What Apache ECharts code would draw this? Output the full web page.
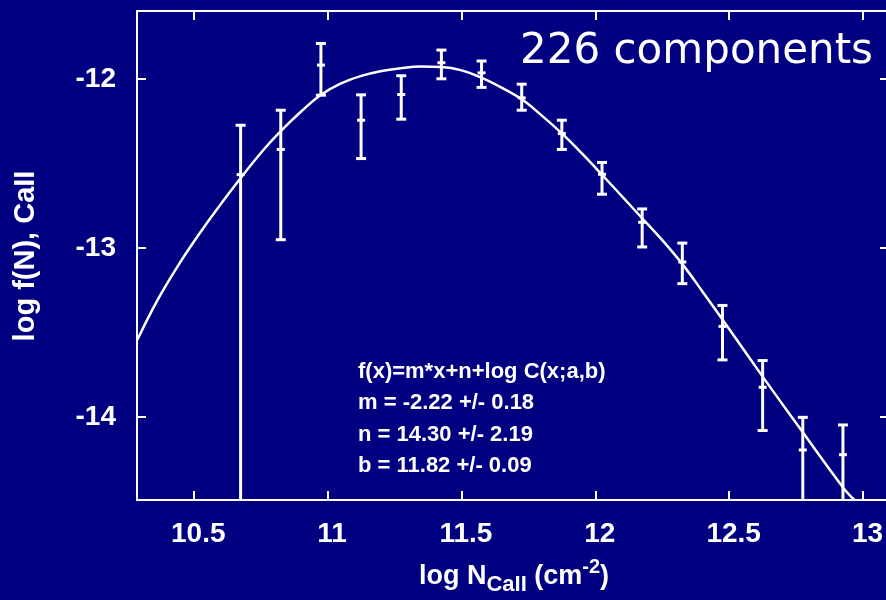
<!DOCTYPE html>
<html>
<head>
<meta charset="utf-8">
<script src="https://cdn.jsdelivr.net/npm/echarts@6/dist/echarts.min.js"></script>
<style>
  html, body { margin: 0; padding: 0; background: #000080; }
  #chart { width: 886px; height: 600px; }
</style>
</head>
<body>
<div id="chart"></div>
<script>
// Column-density distribution of Ca II components: binned values with
// error bars and the fitted curve f(x) = m*x + n + log C(x;a,b).

// Bin centres (log N) and log f(N) per bin
const binCenters = [10.675, 10.825, 10.975, 11.125, 11.275, 11.425, 11.575, 11.725,
                    11.875, 12.025, 12.175, 12.325, 12.475, 12.625, 12.775, 12.925];
const binValues  = [-12.565, -12.416, -11.917, -12.243, -12.091, -11.903, -11.963, -12.111,
                    -12.322, -12.563, -12.847, -13.082, -13.463, -13.823, -14.194, -14.222];
// Error-bar ends (-15 = lower end runs below the plotted range)
const binLow     = [-15.0, -12.950, -12.095, -12.470, -12.237, -11.998, -12.049, -12.184,
                    -12.416, -12.681, -12.993, -13.210, -13.661, -14.079, -15.0, -15.0];
const binHigh    = [-12.273, -12.184, -11.789, -12.093, -11.980, -11.828, -11.893, -12.030,
                    -12.243, -12.493, -12.768, -12.970, -13.339, -13.665, -14.001, -14.046];

// Fitted curve, sampled along log N
const fitX = [10.289, 10.364, 10.438, 10.513, 10.588, 10.663, 10.756, 10.823, 10.898, 10.973,
              11.048, 11.123, 11.197, 11.275, 11.347, 11.424, 11.497, 11.574, 11.646, 11.724,
              11.796, 11.874, 11.949, 12.027, 12.101, 12.175, 12.251, 12.326, 12.400, 12.475,
              12.625, 12.777, 12.926, 12.968];
const fitY = [-13.543, -13.309, -13.112, -12.933, -12.767, -12.610, -12.427, -12.311, -12.196, -12.095,
              -12.027, -11.982, -11.953, -11.935, -11.926, -11.929, -11.947, -11.991, -12.047, -12.118,
              -12.210, -12.320, -12.438, -12.569, -12.696, -12.823, -12.954, -13.096, -13.256, -13.422,
              -13.760, -14.094, -14.417, -14.490];

// Axis ranges and tick values
const xRange = [10.288, 13.097];
const yRange = [-14.49, -11.597];
const xTicks = [10.5, 11, 11.5, 12, 12.5, 13];
const yTicks = [-14, -13, -12];

// Fit summary and sample size
const fitLines = [
  'f(x)=m*x+n+log C(x;a,b)',
  'm = -2.22 +/- 0.18',
  'n = 14.30 +/- 2.19',
  'b = 11.82 +/- 0.09'
];
const componentLabel = '226 components';

const SANS = "'Liberation Sans', Arial, Helvetica, sans-serif";
const WHITE = '#ffffff';

const fitData = fitX.map((x, i) => [x, fitY[i]]);
const barData = binCenters.map((x, i) => [x, binValues[i], binLow[i], binHigh[i]]);

const frameAxis = (extra) => Object.assign({
  type: 'value',
  scale: true,
  axisLine: { show: true, onZero: false, lineStyle: { color: WHITE, width: 2 } },
  axisTick: { show: true, inside: true, length: 9, lineStyle: { color: WHITE, width: 2 } },
  splitLine: { show: false },
  axisLabel: { show: false }
}, extra);

const chart = echarts.init(document.getElementById('chart'), null, { renderer: 'canvas' });

chart.setOption({
  backgroundColor: '#000080',
  animation: false,
  grid: { left: 137, top: 11, right: -3, bottom: 100, containLabel: false, outerBoundsMode: 'none' },
  xAxis: [
    frameAxis({
      position: 'bottom', min: xRange[0], max: xRange[1],
      axisTick: { show: true, inside: true, length: 9, customValues: xTicks,
                  lineStyle: { color: WHITE, width: 2 } },
      axisLabel: { show: true, customValues: xTicks, color: WHITE, fontFamily: SANS,
                   fontWeight: 'bold', fontSize: 28, margin: 20, padding: [0, 0, 0, 9] }
    }),
    frameAxis({
      position: 'top', min: xRange[0], max: xRange[1],
      axisTick: { show: true, inside: true, length: 9, customValues: xTicks,
                  lineStyle: { color: WHITE, width: 2 } }
    })
  ],
  yAxis: [
    frameAxis({
      position: 'left', min: yRange[0], max: yRange[1],
      axisTick: { show: true, inside: true, length: 9, customValues: yTicks,
                  lineStyle: { color: WHITE, width: 2 } },
      axisLabel: { show: true, customValues: yTicks, color: WHITE, fontFamily: SANS,
                   fontWeight: 'bold', fontSize: 28, margin: 21 }
    }),
    frameAxis({
      position: 'right', min: yRange[0], max: yRange[1],
      axisTick: { show: true, inside: true, length: 9, customValues: yTicks,
                  lineStyle: { color: WHITE, width: 2 } }
    })
  ],
  series: [
    {
      name: 'fit',
      type: 'line',
      data: fitData,
      smooth: 0.4,
      showSymbol: false,
      clip: true,
      lineStyle: { color: WHITE, width: 2.5 },
      z: 2
    },
    {
      name: 'bins',
      type: 'custom',
      data: barData,
      clip: true,
      z: 3,
      renderItem: function (params, api) {
        const x = api.value(0);
        const pc = api.coord([x, api.value(1)]);
        const plo = api.coord([x, api.value(2)]);
        const phi = api.coord([x, api.value(3)]);
        const cap = 5, mid = 4;
        const style = { stroke: WHITE, lineWidth: 3, fill: null };
        return {
          type: 'group',
          children: [
            { type: 'line', shape: { x1: phi[0], y1: phi[1], x2: plo[0], y2: plo[1] }, style },
            { type: 'line', shape: { x1: phi[0] - cap, y1: phi[1], x2: phi[0] + cap, y2: phi[1] }, style },
            { type: 'line', shape: { x1: plo[0] - cap, y1: plo[1], x2: plo[0] + cap, y2: plo[1] }, style },
            { type: 'line', shape: { x1: pc[0] - mid, y1: pc[1], x2: pc[0] + mid, y2: pc[1] }, style }
          ]
        };
      }
    }
  ],
  graphic: [
    {
      type: 'text', x: 514, y: 576.5, z: 10,
      style: {
        text: '{a|log N}{s|CaII}{a| (cm}{p|-2}{a|)}',
        align: 'center', verticalAlign: 'middle',
        rich: {
          a: { fill: WHITE, fontFamily: SANS, fontWeight: 'bold', fontSize: 27, lineHeight: 39, verticalAlign: 'middle' },
          s: { fill: WHITE, fontFamily: SANS, fontWeight: 'bold', fontSize: 22, lineHeight: 21, verticalAlign: 'bottom' },
          p: { fill: WHITE, fontFamily: SANS, fontWeight: 'bold', fontSize: 20, lineHeight: 20, verticalAlign: 'top' }
        }
      }
    },
    {
      type: 'text', x: 26, y: 256, rotation: Math.PI / 2, z: 10,
      style: {
        text: 'log f(N), CaII', fill: WHITE,
        font: 'bold 29px ' + SANS, align: 'center', verticalAlign: 'middle'
      }
    },
    {
      type: 'text', x: 358, y: 355.75, z: 10,
      style: {
        text: fitLines.join('\n'), fill: WHITE,
        font: 'bold 22px ' + SANS, lineHeight: 31.5, align: 'left', verticalAlign: 'top'
      }
    },
    {
      type: 'text', x: 520, y: 52, z: 10,
      style: {
        text: componentLabel, fill: WHITE,
        font: "42px 'DejaVu Sans', Verdana, sans-serif", align: 'left', verticalAlign: 'middle'
      }
    }
  ]
});
</script>
</body>
</html>
